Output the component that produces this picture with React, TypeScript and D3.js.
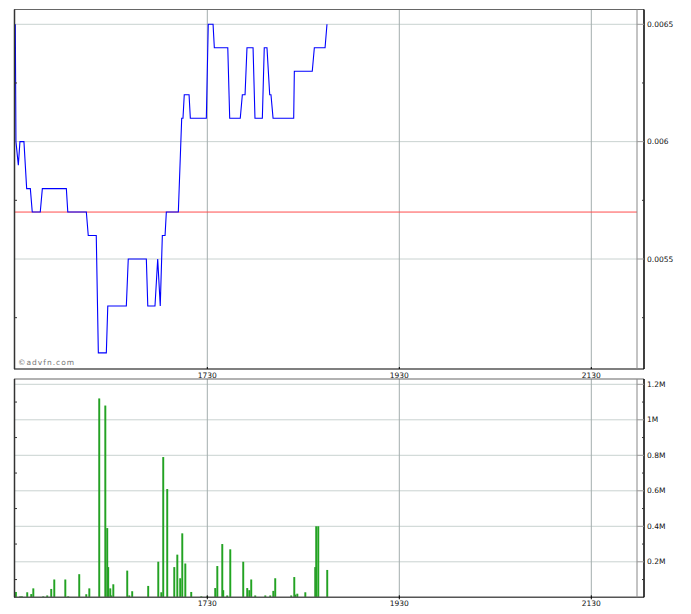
import * as d3 from "d3";

// minutes after 15:30 and last trade price
const priceMinutes = [
  0, 0.4, 1.9, 2.9, 5.4, 7.1, 9.4, 10.6, 15.6, 16.9, 31.9, 32.8, 44.4, 45.6, 50.6, 51.9,
  56.9, 57.8, 69.4, 70.6, 81.9, 82.8, 87.3, 89, 90.6, 91.9, 93.6, 94.4, 101.9, 104, 104.8,
  105.6, 108.6, 109.4, 119.4, 120.6, 123.6, 124.4, 132.8, 134, 140.6, 141.9, 143.6, 144.8,
  148.6, 149.8, 154.4, 155.6, 157.3, 159, 159.8, 161.1, 174, 174.4, 185.6, 186.9, 193.6, 194.8,
];
const priceValues = [
  0.0065, 0.006, 0.0059, 0.006, 0.006, 0.0058, 0.0058, 0.0057, 0.0057, 0.0058, 0.0058, 0.0057,
  0.0057, 0.0056, 0.0056, 0.0051, 0.0051, 0.0053, 0.0053, 0.0055, 0.0055, 0.0053, 0.0053,
  0.0055, 0.0053, 0.0056, 0.0056, 0.0057, 0.0057, 0.0061, 0.0061, 0.0062, 0.0062, 0.0061,
  0.0061, 0.0065, 0.0065, 0.0064, 0.0064, 0.0061, 0.0061, 0.0062, 0.0062, 0.0064, 0.0064,
  0.0061, 0.0061, 0.0064, 0.0064, 0.0062, 0.0062, 0.0061, 0.0061, 0.0063, 0.0063, 0.0064,
  0.0064, 0.0065,
];
const prevClose = 0.0057;

const volumeMinutes = [
  0.4, 3.1, 4.2, 7.5, 10, 11.3, 17.5, 20, 22.5, 24.4, 31.3, 33.1, 40, 44.4, 46.3, 52.5, 56.3,
  57.5, 58.1, 59.4, 60, 61.3, 70, 71.3, 73.1, 83.1, 89.4, 91.3, 92.5, 95, 99.4, 101.3, 103.1,
  104.4, 106.3, 110, 116.3, 120, 125, 126.3, 129.4, 130, 132.5, 134.4, 142.5, 145, 146.3,
  147.5, 150, 156.3, 159.4, 161.3, 162.5, 172.5, 174.4, 175, 176.3, 181.3, 187.5, 188.1,
  189.4, 195,
];
const volumeValues = [
  30000, 5000, 5000, 28000, 18000, 50000, 5000, 10000, 47000, 100000, 100000, 5000, 130000,
  17000, 50000, 1120000, 1080000, 390000, 170000, 50000, 10000, 73000, 150000, 10000, 34000,
  64000, 200000, 28000, 790000, 610000, 170000, 240000, 107000, 360000, 190000, 30000, 5000,
  5000, 52000, 176000, 300000, 40000, 10000, 270000, 200000, 52000, 40000, 100000, 10000,
  10000, 10000, 36000, 107000, 10000, 114000, 15000, 20000, 28000, 170000, 400000, 400000,
  154000,
];

const timeTicks = [120, 240, 360];
const timeLabels = ["1730", "1930", "2130"];
const priceTicks = [0.0055, 0.006, 0.0065];
const priceTickLabels = ["0.0055", "0.006", "0.0065"];
const priceMinor = [0.00525, 0.00575, 0.00625];
const volumeTicks = [200000, 400000, 600000, 800000, 1000000, 1200000];
const volumeTickLabels = ["0.2M", "0.4M", "0.6M", "0.8M", "1M", "1.2M"];
const volumeMinor = [100000, 300000, 500000, 700000, 900000, 1100000];

const W = 691;
const H = 614;
const left = 15;
const plotRight = 637;
const axisX = 644;
const pTop = 9.5;
const pBottom = 369;
const vTop = 379;
const vBottom = 597.3;

export default function App() {
  const x = d3.scaleLinear().domain([0, 390]).range([15.3, 639.3]);
  const y = d3.scaleLinear().domain([0.0055, 0.0065]).range([259, 24.3]);
  const yv = d3.scaleLinear().domain([0, 1200000]).range([vBottom, 384.3]);

  const pts = priceMinutes.map((m, i) => [m, priceValues[i]] as [number, number]);
  const line = d3
    .line<[number, number]>()
    .x((d) => x(d[0]))
    .y((d) => y(d[1]))(pts) as string;

  const font = "DejaVu Sans, Verdana, sans-serif";

  return (
    <svg
      width={W}
      height={H}
      style={{ position: "absolute", left: 0, top: 0, background: "#fff" }}
    >
      {/* gridlines */}
      {priceTicks.map((t) => (
        <line key={"pg" + t} x1={left} x2={plotRight} y1={y(t)} y2={y(t)} stroke="#c9d2d0" strokeWidth={1} />
      ))}
      {volumeTicks.map((t) => (
        <line key={"vg" + t} x1={left} x2={plotRight} y1={yv(t)} y2={yv(t)} stroke="#c9d2d0" strokeWidth={1} />
      ))}
      {timeTicks.map((t) => (
        <g key={"tg" + t}>
          <line x1={x(t)} x2={x(t)} y1={pTop} y2={pBottom} stroke="#a3adad" strokeWidth={1} />
          <line x1={x(t)} x2={x(t)} y1={vTop} y2={vBottom} stroke="#a3adad" strokeWidth={1} />
        </g>
      ))}

      {/* previous close */}
      <line x1={left} x2={plotRight} y1={y(prevClose)} y2={y(prevClose)} stroke="#ff4d4d" strokeWidth={1} />

      {/* price line */}
      <path d={line} fill="none" stroke="#0000ff" strokeWidth={1.1} />

      {/* volume bars */}
      {volumeMinutes.map((m, i) => (
        <g key={"vb" + i}>
          <rect
            x={x(m) - 0.9}
            y={yv(volumeValues[i])}
            width={1.8}
            height={vBottom - yv(volumeValues[i])}
            fill="#14b414"
          />
          <line
            x1={x(m) - 0.4}
            x2={x(m) - 0.4}
            y1={yv(volumeValues[i])}
            y2={vBottom}
            stroke="#4a7d4a"
            strokeWidth={0.6}
          />
        </g>
      ))}

      {/* frames */}
      <line x1={left - 1} x2={axisX} y1={pTop} y2={pTop} stroke="#666" strokeWidth={1.2} />
      <line x1={left - 1} x2={axisX} y1={pBottom} y2={pBottom} stroke="#555" strokeWidth={1.5} />
      <line x1={left - 0.5} x2={left - 0.5} y1={pTop} y2={pBottom} stroke="#333" strokeWidth={1.5} />
      <line x1={plotRight} x2={plotRight} y1={pTop} y2={pBottom} stroke="#888" strokeWidth={1} />
      <line x1={axisX} x2={axisX} y1={pTop} y2={pBottom} stroke="#000" strokeWidth={1.5} />

      <line x1={left - 1} x2={axisX} y1={vTop} y2={vTop} stroke="#666" strokeWidth={1.2} />
      <line x1={left - 1} x2={axisX} y1={vBottom} y2={vBottom} stroke="#555" strokeWidth={1.5} />
      <line x1={left - 0.5} x2={left - 0.5} y1={vTop} y2={vBottom} stroke="#333" strokeWidth={1.5} />
      <line x1={plotRight} x2={plotRight} y1={vTop} y2={vBottom} stroke="#888" strokeWidth={1} />
      <line x1={axisX} x2={axisX} y1={vTop} y2={vBottom} stroke="#000" strokeWidth={1.5} />

      {/* right axis: price */}
      {priceTicks.map((t, i) => (
        <g key={"pt" + t}>
          <line x1={plotRight} x2={axisX} y1={y(t)} y2={y(t)} stroke="#999" strokeWidth={1} />
          <text x={647} y={y(t)} dy="0.35em" fontSize={7.5} fontFamily={font} fill="#111">
            {priceTickLabels[i]}
          </text>
        </g>
      ))}
      {priceMinor.map((t) => (
        <g key={"pm" + t}>
          <line x1={axisX - 2} x2={axisX} y1={y(t)} y2={y(t)} stroke="#333" strokeWidth={1} />
          <line x1={left} x2={left + 2} y1={y(t)} y2={y(t)} stroke="#333" strokeWidth={1} />
        </g>
      ))}

      {/* right axis: volume */}
      {volumeTicks.map((t, i) => (
        <g key={"vt" + t}>
          <line x1={plotRight} x2={axisX} y1={yv(t)} y2={yv(t)} stroke="#999" strokeWidth={1} />
          <text x={647} y={yv(t)} dy="0.35em" fontSize={7.5} fontFamily={font} fill="#111">
            {volumeTickLabels[i]}
          </text>
        </g>
      ))}
      {volumeMinor.map((t) => (
        <g key={"vm" + t}>
          <line x1={axisX - 2} x2={axisX} y1={yv(t)} y2={yv(t)} stroke="#333" strokeWidth={1} />
          <line x1={left} x2={left + 2} y1={yv(t)} y2={yv(t)} stroke="#333" strokeWidth={1} />
        </g>
      ))}

      {/* time labels */}
      {timeTicks.map((t, i) => (
        <g key={"tl" + t}>
          <line x1={x(t)} x2={x(t)} y1={pBottom - 2} y2={pBottom} stroke="#000" strokeWidth={1} />
          <line x1={x(t)} x2={x(t)} y1={vBottom - 2} y2={vBottom + 2} stroke="#000" strokeWidth={1} />
          <text x={x(t)} y={375} dy="0.35em" textAnchor="middle" fontSize={7.5} fontFamily={font} fill="#111">
            {timeLabels[i]}
          </text>
          <text x={x(t)} y={603.5} dy="0.35em" textAnchor="middle" fontSize={7.5} fontFamily={font} fill="#111">
            {timeLabels[i]}
          </text>
        </g>
      ))}

      <text x={18} y={365} fontSize={7.5} fontFamily={font} fill="#777" letterSpacing={1}>
        ©advfn.com
      </text>
    </svg>
  );
}
